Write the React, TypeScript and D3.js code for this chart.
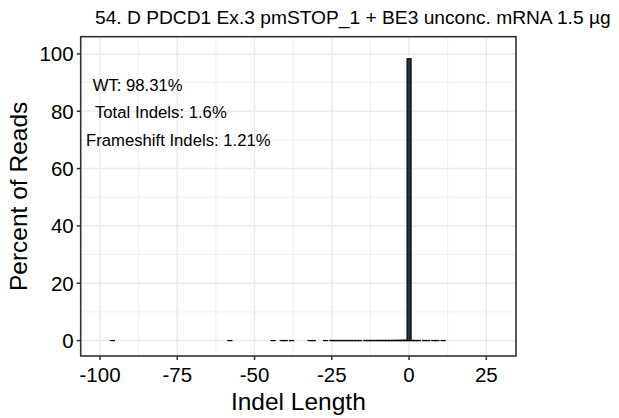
import React from "react";
import * as d3 from "d3";

const indelLengths = [-96, -58, -44, -41, -40, -38, -32, -31, -27, -25, -24, -23, -22, -21, -20, -19, -18, -17, -16, -14, -13, -12, -11, -10, -9, -8, -7, -6, -5, -4, -3, -2, -1, 0, 1, 2, 3, 5, 6, 8, 9, 11];
const percentReads = [0.02, 0.02, 0.02, 0.02, 0.02, 0.02, 0.02, 0.02, 0.02, 0.03, 0.03, 0.03, 0.03, 0.03, 0.03, 0.03, 0.03, 0.03, 0.03, 0.04, 0.04, 0.04, 0.04, 0.05, 0.05, 0.05, 0.05, 0.06, 0.06, 0.08, 0.1, 0.12, 0.15, 98.31, 0.06, 0.04, 0.03, 0.03, 0.02, 0.02, 0.02, 0.02];
const xTicks = [-100, -75, -50, -25, 0, 25];
const xMinor = [-87.5, -62.5, -37.5, -12.5, 12.5];
const yTicks = [0, 20, 40, 60, 80, 100];
const yMinor = [10, 30, 50, 70, 90];
const annotations = ["WT: 98.31%", "Total Indels: 1.6%", "Frameshift Indels: 1.21%"];
const titleText = "54. D PDCD1 Ex.3 pmSTOP_1 + BE3 unconc. mRNA 1.5 µg";

const W = 619, H = 418;
const L = 80.7, R = 516, T = 36.7, B = 356;
const FONT = "'Liberation Sans', Arial, Helvetica, sans-serif";

export default function App() {
  const x = d3.scaleLinear().domain([-106.25, 34.6]).range([L, R]);
  const y = d3.scaleLinear().domain([-5.37, 106]).range([B, T]);
  const bw = x(0.65) - x(-0.65);
  const annPos = [
    { x: 92.7, y: 91 },
    { x: 95, y: 117.5 },
    { x: 86, y: 146 },
  ];
  return (
    <svg width={W} height={H} style={{ position: "absolute", left: 0, top: 0, background: "#fff" }} fontFamily={FONT}>
      <rect x={0} y={0} width={W} height={H} fill="#fff" />
      <text x={95} y={24} fontSize={19.2} fill="#000">{titleText}</text>
      {/* grid */}
      {xMinor.map((v) => (
        <line key={"xm" + v} x1={x(v)} x2={x(v)} y1={T} y2={B} stroke="#ebebeb" strokeWidth={0.8} />
      ))}
      {yMinor.map((v) => (
        <line key={"ym" + v} x1={L} x2={R} y1={y(v)} y2={y(v)} stroke="#ebebeb" strokeWidth={0.8} />
      ))}
      {xTicks.map((v) => (
        <line key={"xg" + v} x1={x(v)} x2={x(v)} y1={T} y2={B} stroke="#ebebeb" strokeWidth={1.5} />
      ))}
      {yTicks.map((v) => (
        <line key={"yg" + v} x1={L} x2={R} y1={y(v)} y2={y(v)} stroke="#ebebeb" strokeWidth={1.5} />
      ))}
      {/* bars */}
      {indelLengths.map((len, i) => (
        <rect key={"b" + len} x={x(len) - bw / 2} y={y(percentReads[i])} width={bw}
          height={Math.max(0, y(0) - y(percentReads[i]))} fill="#253547" stroke="#0a0a0a" strokeWidth={1.2} />
      ))}
      {/* annotations */}
      {annotations.map((t, i) => (
        <text key={t} x={annPos[i].x} y={annPos[i].y} fontSize={16.7} fill="#000">{t}</text>
      ))}
      {/* border */}
      <rect x={L} y={T} width={R - L} height={B - T} fill="none" stroke="#333" strokeWidth={1.6} />
      {/* axes */}
      {xTicks.map((v) => (
        <g key={"xt" + v}>
          <line x1={x(v)} x2={x(v)} y1={B} y2={B + 4} stroke="#333" strokeWidth={1.5} />
          <text x={x(v)} y={381.7} fontSize={20.5} textAnchor="middle" fill="#000">{v}</text>
        </g>
      ))}
      {yTicks.map((v) => (
        <g key={"yt" + v}>
          <line x1={L - 4} x2={L} y1={y(v)} y2={y(v)} stroke="#333" strokeWidth={1.5} />
          <text x={L - 7} y={y(v) + 7.3} fontSize={20.5} textAnchor="end" fill="#000">{v}</text>
        </g>
      ))}
      <text x={(L + R) / 2} y={410} fontSize={24.5} textAnchor="middle" fill="#000">Indel Length</text>
      <text transform={`translate(27, ${(T + B) / 2}) rotate(-90)`} fontSize={24.5} textAnchor="middle" fill="#000">Percent of Reads</text>
    </svg>
  );
}
